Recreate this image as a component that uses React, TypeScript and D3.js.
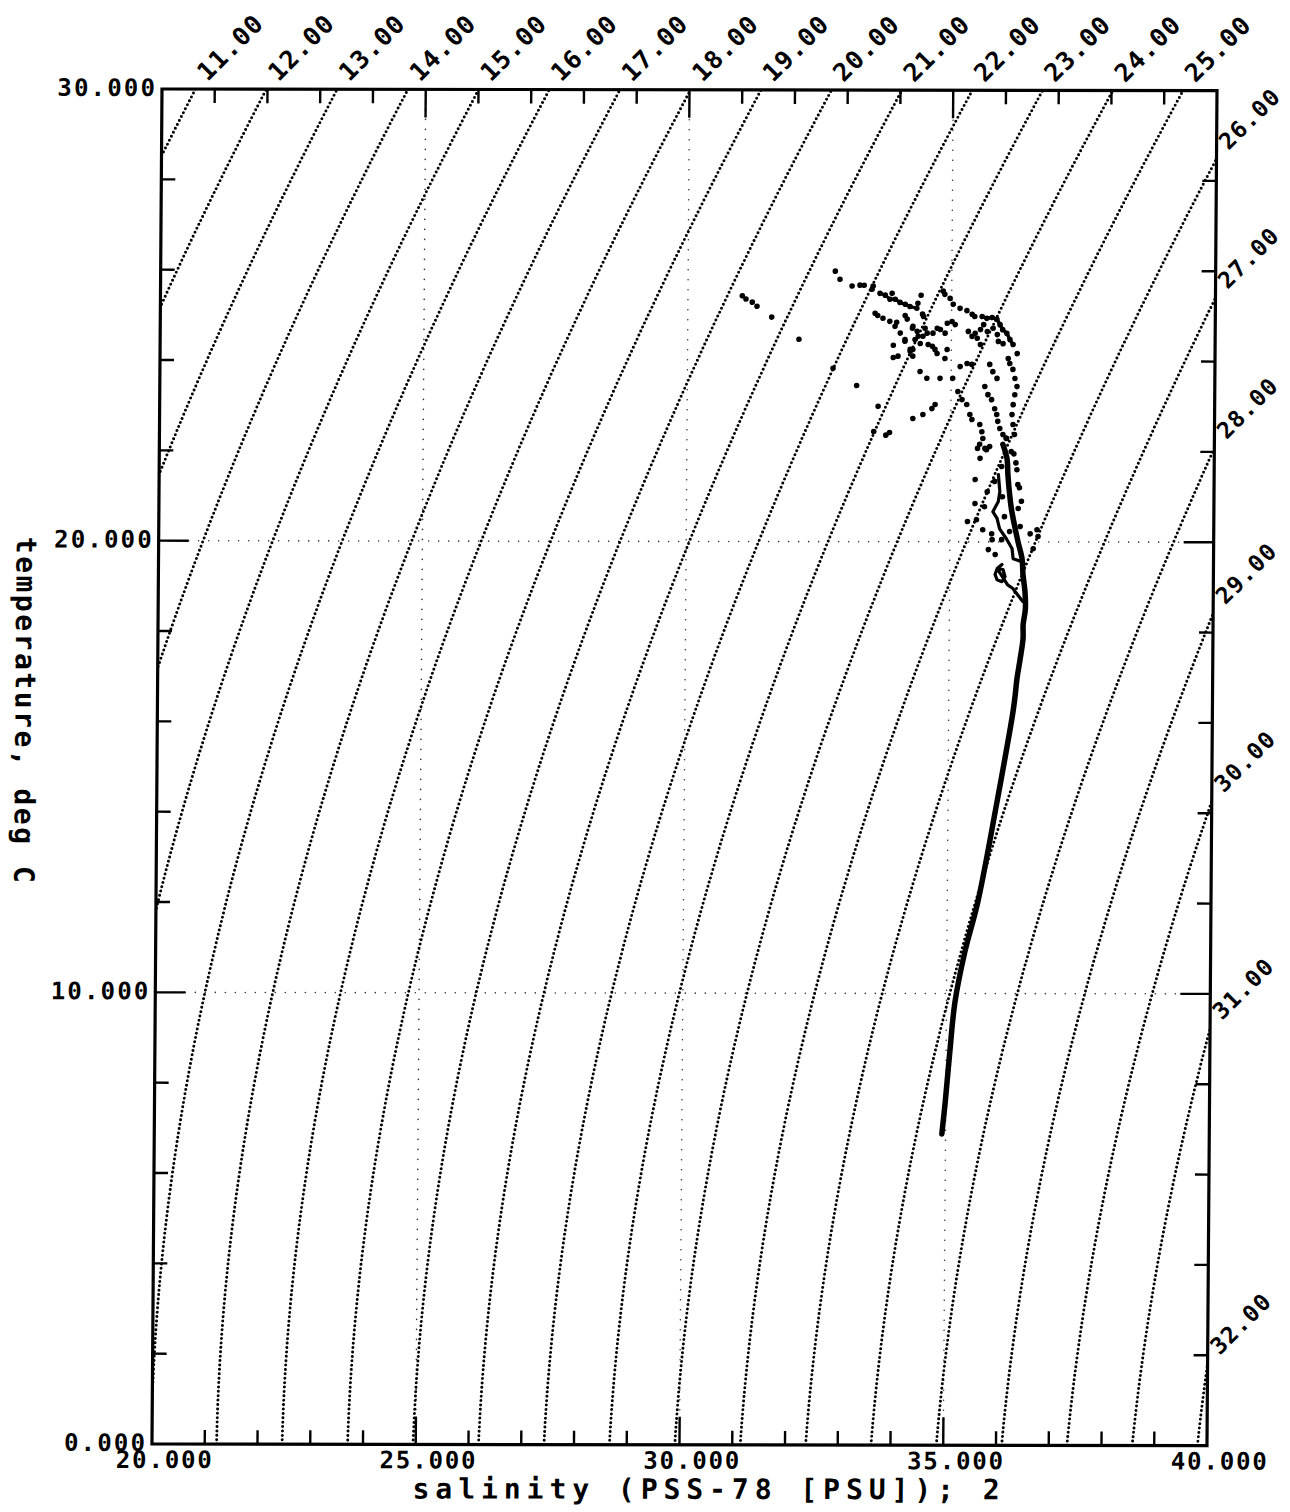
import React from 'react';
import * as d3 from 'd3';

// ---- data ----
const sigmaLevels = [11, 12, 13, 14, 15, 16, 17, 18, 19, 20, 21, 22, 23, 24, 25, 26, 27, 28, 29, 30, 31, 32];
const salLabelTicks = [20, 25, 30, 35, 40];
const tempLabelTicks = [0, 10, 20, 30];
const salGrid = [25, 30, 35];
const tempGrid = [10, 20];
const salMinorTicks = [21, 22, 23, 24, 25, 26, 27, 28, 29, 30, 31, 32, 33, 34, 35, 36, 37, 38, 39];
const tempMinorTicks = [2, 4, 6, 8, 10, 12, 14, 16, 18, 20, 22, 24, 26, 28];

// main dense profile (thermocline)
const coreS = [35.99, 36.07, 36.09, 36.12, 36.16, 36.22, 36.29, 36.37, 36.39, 36.43, 36.44, 36.40, 36.40, 36.34, 36.29, 36.26, 36.22, 35.93, 35.58, 35.34, 35.16, 35.07, 34.99, 34.93];
const coreT = [22.16, 21.85, 21.49, 21.11, 20.74, 20.38, 20.01, 19.63, 19.28, 18.90, 18.52, 18.17, 17.86, 17.35, 16.97, 16.62, 16.24, 14.25, 12.03, 10.92, 9.81, 8.71, 7.60, 6.89];
// secondary strand
const branchS = [35.91, 35.94, 35.91, 35.81, 35.89, 35.94, 36.07, 36.18, 36.20, 36.37];
const branchT = [21.49, 21.11, 20.89, 20.67, 20.52, 20.29, 20.07, 19.85, 19.63, 19.56];
// small loop
const loopS = [35.99, 35.90, 35.86, 35.90, 35.99, 36.05, 36.01, 35.90, 36.10, 36.20, 36.29, 36.39];
const loopT = [19.50, 19.41, 19.28, 19.16, 19.12, 19.23, 19.39, 19.41, 19.05, 18.97, 18.83, 18.68];
// near-surface strands
const arcS = [33.64, 33.74, 33.83, 33.93, 34.02, 34.12, 34.21, 34.34];
const arcT = [25.50, 25.46, 25.37, 25.37, 25.30, 25.26, 25.21, 25.17];
const hookS = [35.58, 35.67, 35.77, 35.86, 35.92, 35.97, 36.05, 36.11, 36.17];
const hookT = [24.99, 24.95, 24.97, 24.93, 24.81, 24.70, 24.62, 24.48, 24.37];
// scattered samples
const dotS = [31.03, 31.10, 31.22, 31.31, 31.59, 32.11, 32.79, 32.88, 33.11, 33.26, 33.34, 33.49, 33.51, 33.64, 33.74, 33.83, 33.93, 34.02, 34.12, 34.21, 34.34, 33.87, 34.42, 34.36,
  33.55, 33.60, 33.70, 33.83, 33.93, 33.96, 34.03, 34.12, 33.90, 33.90, 33.99, 34.12, 34.16, 34.26, 34.27, 34.22, 34.27, 34.35, 34.37, 34.31, 34.45, 34.47, 34.50, 34.54, 34.46, 34.41,
  34.12, 34.22, 34.27, 34.56, 34.64, 34.69, 34.73, 34.88, 34.92, 34.65, 34.73, 34.79, 34.88, 34.92, 35.01, 35.07,
  34.84, 34.87, 34.97, 35.03, 35.16, 35.29, 35.39, 35.44, 35.58, 35.67, 35.77, 35.86, 35.92, 35.97, 36.05, 36.11, 36.17, 36.25,
  35.55, 35.61, 35.68, 35.79, 35.87, 35.89, 35.98, 35.32, 35.39, 35.45, 35.49, 35.55,
  36.08, 36.11, 36.17, 36.21, 36.25, 36.21, 36.18, 36.16, 36.18, 36.21,
  35.17, 35.30, 35.39, 35.03, 34.79, 34.54, 34.41, 35.64, 35.70, 35.77, 35.83, 35.87, 35.89, 35.93, 35.99, 36.06, 35.73, 35.79, 35.87,
  35.13, 35.21, 35.30, 35.36, 35.40, 35.55, 35.59, 35.61, 34.70, 34.64, 34.47, 34.28, 32.76, 33.21, 33.62, 33.54, 33.77, 33.84,
  35.55, 35.65, 35.74, 35.56, 35.47, 35.47, 35.33, 35.50, 35.62, 35.79, 35.80, 35.98, 35.73, 35.86, 36.52, 36.65, 36.67, 36.58, 35.51, 35.68, 36.28, 36.29, 36.33,
  35.97, 35.84, 35.99, 36.03, 36.13, 35.70, 35.65, 36.20, 36.26, 36.31, 36.35, 36.15, 36.05, 36.24];
const dotT = [25.44, 25.37, 25.30, 25.21, 24.97, 24.48, 25.99, 25.81, 25.66, 25.68, 25.68, 25.59, 25.66, 25.50, 25.46, 25.37, 25.37, 25.30, 25.26, 25.21, 25.17, 25.50, 25.46, 25.28,
  25.06, 25.01, 24.95, 24.88, 24.77, 24.86, 24.62, 24.48, 24.35, 24.08, 24.11, 25.01, 24.93, 24.73, 24.26, 24.22, 24.77, 24.66, 24.55, 24.48, 25.04, 24.99, 24.73, 24.62, 24.55, 24.39,
  24.44, 24.26, 24.11, 24.37, 24.33, 24.26, 24.17, 24.06, 24.26, 24.62, 24.73, 24.70, 24.62, 24.84, 24.88, 24.81,
  25.55, 25.48, 25.39, 25.26, 25.17, 25.12, 25.04, 24.99, 24.99, 24.95, 24.97, 24.93, 24.81, 24.70, 24.62, 24.48, 24.37, 24.17,
  24.70, 24.81, 24.66, 24.73, 24.59, 24.44, 24.39, 24.66, 24.55, 24.62, 24.51, 24.37,
  24.06, 23.95, 23.82, 23.62, 23.44, 23.26, 23.04, 22.82, 22.60, 22.38,
  23.88, 23.95, 23.93, 23.62, 23.62, 23.62, 23.77, 23.44, 23.26, 23.15, 22.95, 22.82, 22.67, 22.51, 22.38, 22.29, 23.93, 23.77, 23.62,
  23.33, 23.15, 23.04, 22.82, 22.71, 22.60, 22.44, 22.29, 23.04, 22.95, 22.82, 22.73, 23.84, 23.46, 23.00, 22.44, 22.36, 22.42,
  22.16, 22.07, 22.11, 21.85, 21.38, 20.85, 20.45, 20.49, 20.27, 20.18, 20.05, 20.05, 19.83, 19.72, 20.18, 20.27, 20.12, 19.85, 22.07, 22.04, 21.27, 20.74, 20.34,
  21.67, 21.34, 21.00, 20.56, 20.23, 21.11, 20.78, 21.95, 21.60, 21.20, 20.90, 22.00, 22.30, 21.75];

// ---- UNESCO EOS-80 density at surface pressure ----
function sigmaT(S: number, T: number): number {
  const rw = 999.842594 + 6.793952e-2 * T - 9.09529e-3 * T * T + 1.001685e-4 * T ** 3 - 1.120083e-6 * T ** 4 + 6.536332e-9 * T ** 5;
  const A = 8.24493e-1 - 4.0899e-3 * T + 7.6438e-5 * T * T - 8.2467e-7 * T ** 3 + 5.3875e-9 * T ** 4;
  const B = -5.72466e-3 + 1.0227e-4 * T - 1.6546e-6 * T * T;
  const C = 4.8314e-4;
  return rw + A * S + B * Math.pow(S, 1.5) + C * S * S - 1000;
}
function salAt(level: number, T: number): number {
  let lo = 0, hi = 70;
  for (let i = 0; i < 60; i++) {
    const m = (lo + hi) / 2;
    if (sigmaT(m, T) < level) lo = m; else hi = m;
  }
  return (lo + hi) / 2;
}
function tempAt(level: number, S: number): number {
  let lo = -2, hi = 40;
  for (let i = 0; i < 60; i++) {
    const m = (lo + hi) / 2;
    if (sigmaT(S, m) > level) lo = m; else hi = m;
  }
  return (lo + hi) / 2;
}

const W = 1055;
const H = 1355;
const FONT = '"DejaVu Sans Mono", "Liberation Mono", monospace';

export default function App() {
  const x = d3.scaleLinear().domain([20, 40]).range([0, W]);
  const y = d3.scaleLinear().domain([0, 30]).range([H, 0]);
  const line = d3.line<[number, number]>().x((d) => x(d[0])).y((d) => y(d[1]));
  const smooth = d3.line<[number, number]>().x((d) => x(d[0])).y((d) => y(d[1])).curve(d3.curveCatmullRom.alpha(0.5));
  const temps = d3.range(0, 30.0001, 0.1);

  const iso = sigmaLevels.map((lv) => {
    const pts: [number, number][] = temps.map((t) => [salAt(lv, t), t]);
    const s30 = salAt(lv, 30);
    let label;
    if (s30 <= 40) label = { side: 'top', px: x(s30), py: 0 };
    else label = { side: 'right', px: W, py: y(tempAt(lv, 40)) };
    return { lv, d: line(pts) || '', label };
  });

  const pair = (a: number[], b: number[]) => a.map((s, i) => [s, b[i]] as [number, number]);
  const core = smooth(pair(coreS, coreT)) || '';
  const branch = line(pair(branchS, branchT)) || '';
  const loop = line(pair(loopS, loopT)) || '';
  const arc = line(pair(arcS, arcT)) || '';
  const hook = line(pair(hookS, hookT)) || '';

  const fmt3 = d3.format('.3f');
  const fmt2 = d3.format('.2f');

  return (
    <svg width={1290} height={1512} style={{ position: 'absolute', left: 0, top: 0, background: '#fff' }}>
      <rect x={0} y={0} width={1290} height={1512} fill="#fff" />
      <defs>
        <clipPath id="plotclip">
          <rect x={0} y={0} width={W} height={H} />
        </clipPath>
      </defs>
      <g transform="matrix(1, 0.0015, -0.0074, 1, 162, 89)" fontFamily={FONT} fontWeight="bold" fill="#000">
        {/* grid */}
        <g stroke="#333" strokeWidth={1.6} strokeDasharray="0 10" strokeLinecap="round">
          {salGrid.map((s) => (
            <line key={'gs' + s} x1={x(s)} x2={x(s)} y1={0} y2={H} />
          ))}
          {tempGrid.map((t) => (
            <line key={'gt' + t} x1={0} x2={W} y1={y(t)} y2={y(t)} />
          ))}
        </g>
        {/* isopycnals */}
        <g clipPath="url(#plotclip)" fill="none" stroke="#000" strokeWidth={3} strokeDasharray="0 4.4" strokeLinecap="round">
          {iso.map((o) => (
            <path key={'iso' + o.lv} d={o.d} />
          ))}
        </g>
        {/* data */}
        <g clipPath="url(#plotclip)" fill="none" stroke="#000" strokeLinecap="round" strokeLinejoin="round">
          <path d={core} strokeWidth={5.5} />
          <path d={branch} strokeWidth={3.2} />
          <path d={loop} strokeWidth={3.2} />
          <path d={arc} strokeWidth={3.2} />
          <path d={hook} strokeWidth={3.5} />
        </g>
        <g fill="#000">
          {dotS.map((s, i) => (
            <circle key={'d' + i} cx={x(s)} cy={y(dotT[i])} r={2.8} />
          ))}
        </g>
        {/* ticks */}
        <g stroke="#000" strokeWidth={2.4}>
          {salMinorTicks.map((s) => {
            const len = s % 5 === 0 ? 28 : 14;
            return (
              <g key={'ts' + s}>
                <line x1={x(s)} x2={x(s)} y1={H} y2={H - len} />
                <line x1={x(s)} x2={x(s)} y1={0} y2={len} />
              </g>
            );
          })}
          {tempMinorTicks.map((t) => {
            const len = t % 10 === 0 ? 30 : 14;
            return (
              <g key={'tt' + t}>
                <line x1={0} x2={len} y1={y(t)} y2={y(t)} />
                <line x1={W} x2={W - len} y1={y(t)} y2={y(t)} />
              </g>
            );
          })}
        </g>
        {/* frame */}
        <rect x={0} y={0} width={W} height={H} fill="none" stroke="#000" strokeWidth={3.2} />
        {/* axis labels */}
        {salLabelTicks.map((s) => (
          <text key={'ls' + s} x={x(s) + 12} y={H + 24} fontSize={24} textAnchor="middle" textLength={96} lengthAdjust="spacing">
            {fmt3(s)}
          </text>
        ))}
        {tempLabelTicks.map((t) => {
          const str = fmt3(t);
          return (
            <text key={'lt' + t} x={-7} y={y(t) + 7} fontSize={24} textAnchor="end" textLength={str.length * 16.6 - 2} lengthAdjust="spacing">
              {str}
            </text>
          );
        })}
        {/* isopycnal labels */}
        {iso.map((o) => {
          const top = o.label.side === 'top';
          const tx = top ? o.label.px + 12 : o.label.px + 12;
          const ty = top ? -7 : o.label.py - 8;
          return (
            <text key={'il' + o.lv} transform={`translate(${tx},${ty}) rotate(-45)`} fontSize={top ? 25 : 23} textLength={top ? 80 : 74} lengthAdjust="spacing">
              {fmt2(o.lv)}
            </text>
          );
        })}
        {/* titles */}
        <text x={261} y={1409} fontSize={28} textLength={587} lengthAdjust="spacing">
          salinity (PSS-78 [PSU]); 2
        </text>
        <text transform="translate(-142,448) rotate(90)" fontSize={28} textLength={346} lengthAdjust="spacing">
          temperature, deg C
        </text>
      </g>
    </svg>
  );
}
